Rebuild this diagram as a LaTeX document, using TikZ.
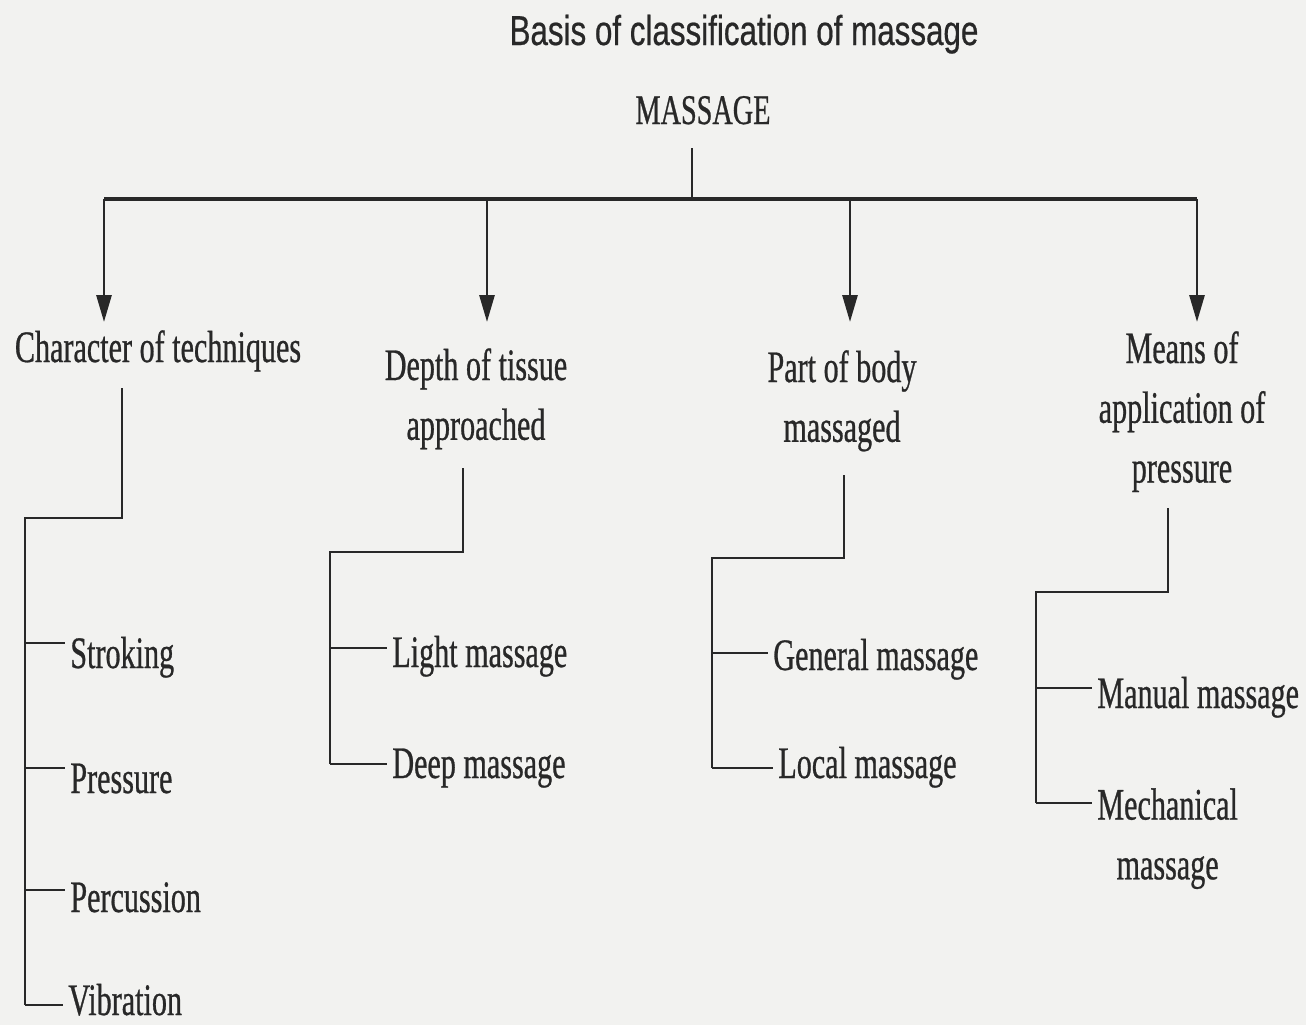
\documentclass[tikz,border=0pt]{standalone}
\usepackage{fontspec}
\setmainfont{Liberation Serif}[FakeStretch=0.67, FakeBold=0.6]
\newfontfamily\titlefont{Liberation Sans}[FakeStretch=0.75, FakeBold=0.5]
\usepackage{tikz}
\usetikzlibrary{positioning, arrows.meta}

\definecolor{paper}{RGB}{242,242,240}
\definecolor{ink}{RGB}{40,40,40}

\begin{document}
\begin{tikzpicture}[
                x=0.02cm, y=-0.02cm, % 以像素为单位
                every node/.style={
                    inner sep=0, % 内边距为 0
                    text=ink,
                    font=\fontsize{25.6}{34}\selectfont % 字体大小
                },
                head/.style={align=center, anchor=north}, % 分类节点
                leaf/.style={anchor=base west}, % 叶子节点
                link/.style={draw=ink, line width=1.6pt, line join=miter},
                tick/.style={link, shorten >=0.1cm},
                arr/.style={link, -{Triangle[length=0.54cm, width=0.3cm]}}
            ]

            % 背景
            \fill[paper] (0,0) rectangle (1306,1025);

            % 标题与根节点
            \node[anchor=base, font=\titlefont\fontsize{23.8}{28}\selectfont] (title) at (744,45) {Basis of classification of massage};
            \node[anchor=base, font=\fontsize{24}{30}\selectfont] (root) at (703,124) {MASSAGE};

            % 第一层: 分类依据
            \node[head] (c1) at (158,330) {Character of techniques};
            \node[head] (c2) at (476,348) {Depth of tissue\\approached};
            \node[head] (c3) at (842,350) {Part of body\\massaged};
            \node[head] (c4) at (1182,331) {Means of\\application of\\pressure};

            % 第二层: 具体类型
            \node[leaf] (s1) at (70,668) {Stroking};
            \node[leaf] (s2) at (70,793) {Pressure};
            \node[leaf] (s3) at (70,912) {Percussion};
            \node[leaf] (s4) at (68,1015) {Vibration};
            \node[leaf] (d1) at (392,667) {Light massage};
            \node[leaf] (d2) at (392,778) {Deep massage};
            \node[leaf] (p1) at (773,670) {General massage};
            \node[leaf] (p2) at (778,778) {Local massage};
            \node[leaf] (m1) at (1097,708) {Manual massage};
            \node[head, anchor=north west] (m2) at (1097,788) {Mechanical\\massage};

            % 根节点到横线
            \coordinate (top) at (692,148);
            \coordinate (hub) at (692,199);
            \coordinate (b1) at (104,199);
            \coordinate (b2) at (487,199);
            \coordinate (b3) at (850,199);
            \coordinate (b4) at (1197,199);
            \draw[link] (top) -- (hub);
            \draw[link, line width=1.9pt] (b1) -- (b4);
            \foreach \i in {1, ..., 4} {
                \draw[arr] (b\i) -- (b\i |- 0,322);
            }

            % 各分类的折线
            \coordinate (k1) at (122,388);
            \coordinate (j1) at (25,518);
            \coordinate (k2) at (463,468);
            \coordinate (j2) at (330,552);
            \coordinate (k3) at (844,475);
            \coordinate (j3) at (712,558);
            \coordinate (k4) at (1168,508);
            \coordinate (j4) at (1036,592);

            \draw[link] (k1) |- (j1) -- (j1 |- 0,1005);
            \draw[link] (k2) |- (j2) -- (j2 |- 0,764);
            \draw[link] (k3) |- (j3) -- (j3 |- 0,768);
            \draw[link] (k4) |- (j4) -- (j4 |- 0,803);

            % 分支短线
            \draw[tick] (j1 |- 0,643) -- (s1.west |- 0,643);
            \draw[tick] (j1 |- 0,768) -- (s2.west |- 0,768);
            \draw[tick] (j1 |- 0,890) -- (s3.west |- 0,890);
            \draw[tick] (j1 |- 0,1005) -- (s4.west |- 0,1005);
            \draw[tick] (j2 |- 0,648) -- (d1.west |- 0,648);
            \draw[tick] (j2 |- 0,764) -- (d2.west |- 0,764);
            \draw[tick] (j3 |- 0,653) -- (p1.west |- 0,653);
            \draw[tick] (j3 |- 0,768) -- (p2.west |- 0,768);
            \draw[tick] (j4 |- 0,688) -- (m1.west |- 0,688);
            \draw[tick] (j4 |- 0,803) -- (m2.west |- 0,803);
        \end{tikzpicture}
\end{document}
